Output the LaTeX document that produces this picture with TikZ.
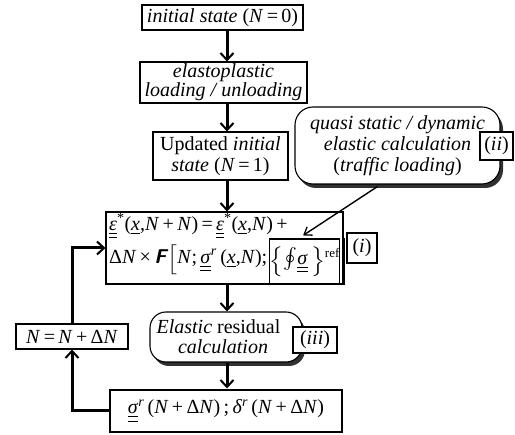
\documentclass[tikz,border=0pt]{standalone}
\usepackage{exscale}
\usepackage{fontspec}
\setmainfont{Liberation Serif}
\usetikzlibrary{arrows.meta,shadows,calc}
\newcommand{\dul}[1]{\underline{\underline{#1}}}
\newcommand{\vi}[1]{\textit{#1}}
\newcommand{\tallD}[1]{\raisebox{-1pt}{\scalebox{1}[0.8]{$\Big#1$}}}
\begin{document}
\begin{tikzpicture}[x=1pt,y=-1pt,
  txt/.style={font=\fontsize{20}{20}\selectfont},
  box/.style={draw, line width=1.1pt, inner sep=0pt, align=center, fill=white, txt},
  rbox/.style={box, rounded corners=18pt,
     drop shadow={shadow xshift=3pt, shadow yshift=-4pt, fill=black!85, opacity=0.95}},
  flow/.style={line width=3pt, -{Straight Barb[length=7pt,width=13pt,line width=2pt]}},
  thin/.style={line width=1.4pt, -{Straight Barb[length=7pt,width=10pt,line width=1.3pt]}}
]
\useasboundingbox (0,0) rectangle (515,435);
\coordinate (sp) at (227,0);
% main column
\node[box, minimum width=161pt, minimum height=25pt] (b1) at (222.5,17.5)
  {\vi{initial state} (\vi{N}\,=\,0)};
\node[box, minimum width=167pt, minimum height=41pt] (b2) at (223.5,82.5)
  {\vi{elastoplastic}\\[-1pt] \vi{loading / unloading}};
\node[box, minimum width=135pt, minimum height=48pt] (b3) at (220.5,156)
  {Updated \vi{initial}\\[1pt] \vi{state} (\vi{N}\,=\,1)};
\node[box, minimum width=237pt, minimum height=72pt] (big) at (224.5,248) {};
\node[txt, anchor=west, inner sep=0pt] (l1) at (109,226)
  {\dul{\vi{ε}}\textsuperscript{*}(\underline{\vi{x}},\vi{N}\,+\,\vi{N})\,=\,\dul{\vi{ε}}\textsuperscript{*}(\underline{\vi{x}},\vi{N})\,+};
\node[txt, anchor=west, inner sep=0pt] (l2) at (109,260)
  {Δ\vi{N}\,×\,{\sffamily\bfseries\itshape F}\kern1pt\tallD[\vi{N};\,\dul{\vi{σ}}\textsuperscript{\vi{r}}\,(\underline{\vi{x}},\vi{N});};
\node[box, minimum width=67pt, minimum height=45pt] (inner) at (304.5,261.5)
  {\tallD\{$\oint$\dul{\vi{σ}}\,\tallD\}\raisebox{7pt}{\fontsize{13}{13}\selectfont ref}};
\draw[line width=3pt] (big.north east |- inner.north) -- (big.south east);
\node[box, minimum width=30pt, minimum height=30pt] (ib) at (362,248) {(\vi{i})};
% callout
\node[rbox, minimum width=205pt, minimum height=77pt] (call) at (397.5,145.5)
  {\vi{quasi static / dynamic}\\[1pt] \vi{elastic calculation}\\[1pt] (\vi{traffic loading})};
\node[box, minimum width=33pt, minimum height=28pt] (ii) at (496.5,146) {(\vi{ii})};
% elastic residual
\node[rbox, rounded corners=16pt, minimum width=152pt, minimum height=50pt] (el) at (226,337)
  {\hspace*{-15pt}\vi{Elastic} residual\\ \hspace*{-6pt}\vi{calculation}};
\node[box, minimum width=44pt, minimum height=26pt] (iii) at (315,340) {(\vi{iii})};
% loop
\node[box, minimum width=112pt, minimum height=25pt] (nb) at (72,336.5)
  {\vi{N}\,=\,\vi{N}\,+\,Δ\vi{N}};
\node[box, minimum width=232pt, minimum height=42pt] (bot) at (226,411)
  {\dul{\vi{σ}}\textsuperscript{\vi{r}}\,(\vi{N}\,+\,Δ\vi{N})\,;\,\vi{δ}\textsuperscript{\vi{r}}\,(\vi{N}\,+\,Δ\vi{N})};
% connectors
\draw[flow] (b1.south -| sp) -- (b2.north -| sp);
\draw[flow] (b2.south -| sp) -- (b3.north -| sp);
\draw[flow] (b3.south -| sp) -- (big.north -| sp);
\draw[flow] (big.south -| sp) -- (el.north -| sp);
\draw[flow] (el.south -| sp) -- ([yshift=1pt]bot.north -| sp);
\draw[thin] ([xshift=-20pt,yshift=-2pt]call.south) -- ([xshift=34pt,yshift=3pt]inner.north west);
\draw[flow] (bot.west) -| (nb.south);
\draw[flow] (nb.north) |- (big.west);
\end{tikzpicture}
\end{document}
